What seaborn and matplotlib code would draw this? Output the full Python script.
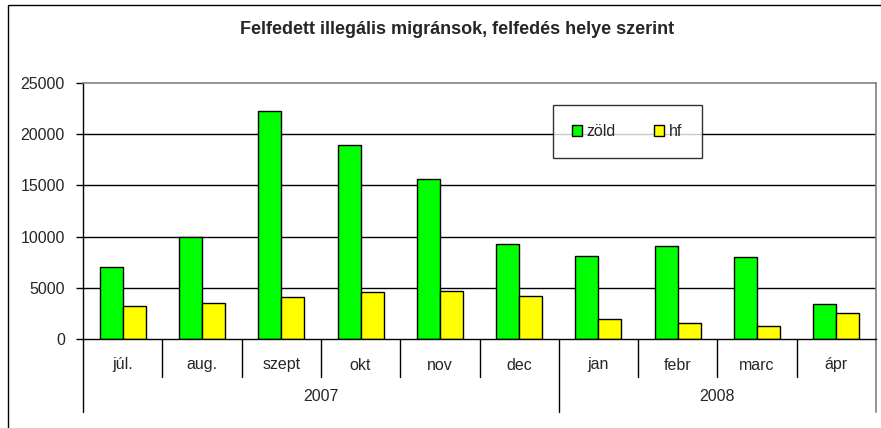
import matplotlib
matplotlib.use("Agg")
import matplotlib.pyplot as plt
import matplotlib.transforms as mtransforms
from matplotlib.patches import Rectangle, Patch
import seaborn as sns
import pandas as pd

months = ["júl.", "aug.", "szept", "okt", "nov", "dec", "jan", "febr", "marc", "ápr"]
years = ["2007", "2008"]
year_spans = [(0, 5), (6, 9)]
zold = [7050, 10000, 22300, 18900, 15600, 9250, 8100, 9100, 8000, 3450]
hf = [3200, 3550, 4100, 4600, 4700, 4200, 2000, 1550, 1270, 2550]
series_names = ["zöld", "hf"]
colors = {"zöld": "#00FF00", "hf": "#FFFF00"}
title = "Felfedett illegális migránsok, felfedés helye szerint"

df = pd.DataFrame({
    "month": months * 2,
    "value": zold + hf,
    "series": [series_names[0]] * len(months) + [series_names[1]] * len(months),
})

sns.set_style("white")
plt.rcParams["font.family"] = ["Liberation Sans", "DejaVu Sans"]

W, H = 881, 428
fig = plt.figure(figsize=(W / 100, H / 100), dpi=100)
left, right, top, bottom = 83, 876, 83, 339
ax = fig.add_axes([left / W, 1 - bottom / H, (right - left) / W, (bottom - top) / H])

sns.barplot(data=df, x="month", y="value", hue="series", order=months,
            hue_order=series_names, palette=colors, width=0.58, dodge=True,
            edgecolor="black", linewidth=1.0, saturation=1, ax=ax, legend=False,
            zorder=3)

FS = 11.5
ax.set_ylim(0, 25000)
ax.set_xlim(-0.5, len(months) - 0.5)
yt = [0, 5000, 10000, 15000, 20000, 25000]
ax.set_yticks(yt)
ax.set_yticklabels([str(v) for v in yt], fontsize=FS)
for v in yt[1:-1]:
    ax.axhline(v, color="black", lw=1.0, zorder=1)
ax.tick_params(axis="y", direction="out", length=5, width=1, color="black", pad=8, left=True)
ax.set_xticks([])
ax.set_xlabel("")
ax.set_ylabel("")

for s in ["left", "bottom"]:
    ax.spines[s].set_color("black")
    ax.spines[s].set_linewidth(1.0)
for s in ["top", "right"]:
    ax.spines[s].set_color("#808080")
    ax.spines[s].set_linewidth(1.2)
ax.spines["bottom"].set_zorder(5)

trans = mtransforms.blended_transform_factory(ax.transData, ax.transAxes)
ah = bottom - top
month_y = -(365 - bottom) / ah
year_y = -(397 - bottom) / ah
msep = -(377 - bottom) / ah
ysep = -(412 - bottom) / ah

for i, m in enumerate(months):
    ax.text(i, month_y, m, transform=trans, ha="center", va="center", fontsize=FS)
year_bounds = set()
for (a, b) in year_spans:
    year_bounds.add(a - 0.5)
    year_bounds.add(b + 0.5)
for i in range(len(months) + 1):
    x = i - 0.5
    y1 = ysep if x in year_bounds else msep
    c = "#808080" if i == len(months) else "black"
    ax.plot([x, x], [0, y1], transform=trans, color=c, lw=1.0 if c == "black" else 1.2,
            clip_on=False)
for yname, (a, b) in zip(years, year_spans):
    ax.text((a + b) / 2, year_y, yname, transform=trans, ha="center", va="center", fontsize=FS)

handles = [Patch(facecolor=colors[n], edgecolor="black", linewidth=1.0) for n in series_names]
leg = ax.legend(handles, series_names, loc="upper left", ncol=2,
                bbox_to_anchor=((553 - left) / (right - left), (bottom - 105) / ah),
                fontsize=11.5, frameon=True, fancybox=False, shadow=False,
                borderpad=1.2, handlelength=0.62, handleheight=0.62,
                handletextpad=0.3, columnspacing=2.4, borderaxespad=0)
leg.get_frame().set_edgecolor("black")
leg.get_frame().set_linewidth(1.0)
leg.get_frame().set_facecolor("white")
leg.set_zorder(10)

fig.text(457.5 / W, 1 - 29.5 / H, title, ha="center", va="center", fontsize=13,
         fontweight="bold")

fig.add_artist(Rectangle((7.5 / W, -0.1), 1.2, 1 - 5.5 / H + 0.1, transform=fig.transFigure,
                         fill=False, edgecolor="black", lw=1.0))

fig.savefig("out.png", dpi=100, facecolor="white")
